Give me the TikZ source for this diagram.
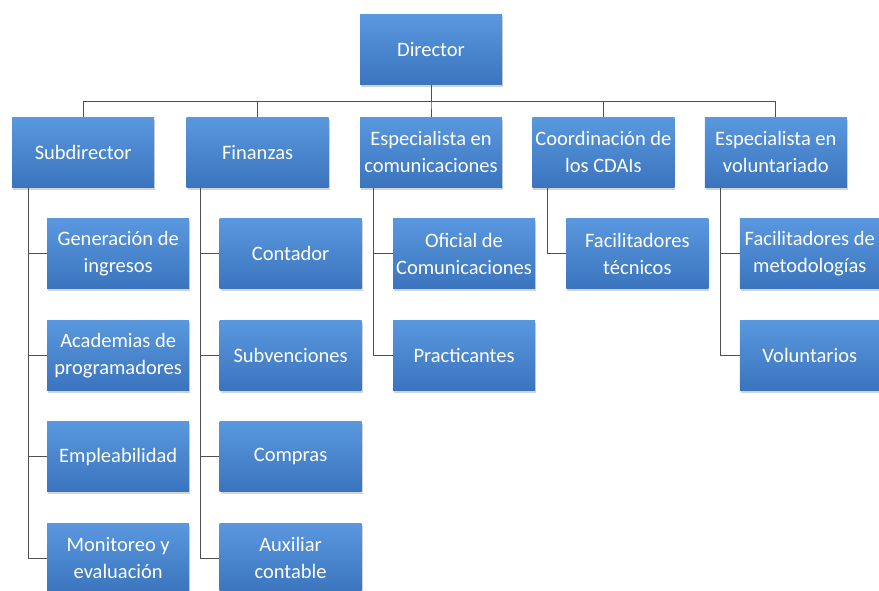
\documentclass[tikz,border=0pt]{standalone}
\usepackage{fontspec}
\setmainfont{Carlito}
\usetikzlibrary{positioning, calc, shadows}
\definecolor{boxtop}{RGB}{90,152,222}
\definecolor{boxbottom}{RGB}{58,116,190}
\definecolor{linegray}{RGB}{80,80,80}

\begin{document}
\begin{tikzpicture}[puesto/.style={rectangle,
      top color=boxtop,
      bottom color=boxbottom,
      draw=none,
      drop shadow={opacity=0.35, shadow xshift=1pt, shadow yshift=-2.5pt},
      minimum width=142pt,
      minimum height=70pt,
      inner sep=1pt,
      align=center,
      text=white,
      font=\fontsize{20.5}{27}\selectfont},
    linea/.style={draw=linegray, line width=0.9pt}]

  \useasboundingbox (0,0) rectangle (879pt,-591pt);

  \node [puesto] (director) at (431pt,-50pt) {Director};


  \node [puesto, below=32pt of director] (comunic) {Especialista en\\comunicaciones};

  \node [puesto, left=31pt of comunic] (finanzas) {Finanzas};

  \node [puesto, left=32pt of finanzas] (subdir) {Subdirector};

  \node [puesto, right=30pt of comunic] (coord) {Coordinación de\\los CDAIs};

  \node [puesto, right=30pt of coord] (volunt) {Especialista en\\voluntariado};


  % subdirector
  \node [puesto, below=31pt of subdir.south west, 
    anchor=north west, xshift=35pt] (ingresos) {Generación de\\ingresos};
  \node [puesto, below=31pt of ingresos] (academias) {Academias de\\programadores};
  \node [puesto, below=31pt of academias] (empleab) {Empleabilidad};
  \node [puesto, below=31pt of empleab] (monitoreo) {Monitoreo y\\evaluación};

  % finanzas
  \node [puesto, below=31pt of finanzas.south west, 
    anchor=north west, xshift=33pt] (contador) {Contador};
  \node [puesto, below=31pt of contador] (subvenc) {Subvenciones};
  \node [puesto, below=31pt of subvenc] (compras) {Compras};
  \node [puesto, below=31pt of compras] (auxiliar) {Auxiliar\\contable};

  % comunicaciones
  \node [puesto, below=31pt of comunic.south west, 
    anchor=north west, xshift=33pt] (oficial) {Oficial de\\Comunicaciones};
  \node [puesto, below=31pt of oficial] (practic) {Practicantes};

  % coordinacion
  \node [puesto, below=31pt of coord.south west, 
    anchor=north west, xshift=34pt] (facitec) {Facilitadores\\técnicos};

  % voluntariado
  \node [puesto, minimum width=140pt, below=31pt of volunt.south west, 
    anchor=north west, xshift=35pt] (facimet) {Facilitadores de\\metodologías};
  \node [puesto, minimum width=140pt, below=31pt of facimet] (voluntarios) {Voluntarios};


  \draw[linea] (director.south) -- ++(0,-16pt) -| (subdir.north);
  \draw[linea] (director.south) -- ++(0,-16pt) -| (finanzas.north);
  \draw[linea] (director.south) -- ++(0,-16pt) -| (comunic.north);
  \draw[linea] (director.south) -- ++(0,-16pt) -| (coord.north);
  \draw[linea] (director.south) -- ++(0,-16pt) -| (volunt.north);

  \draw[linea] ($(subdir.south west) + (16pt,0)$) |- (ingresos.west);
  \draw[linea] ($(subdir.south west) + (16pt,0)$) |- (academias.west);
  \draw[linea] ($(subdir.south west) + (16pt,0)$) |- (empleab.west);
  \draw[linea] ($(subdir.south west) + (16pt,0)$) |- (monitoreo.west);

  \draw[linea] ($(finanzas.south west) + (14pt,0)$) |- (contador.west);
  \draw[linea] ($(finanzas.south west) + (14pt,0)$) |- (subvenc.west);
  \draw[linea] ($(finanzas.south west) + (14pt,0)$) |- (compras.west);
  \draw[linea] ($(finanzas.south west) + (14pt,0)$) |- (auxiliar.west);

  \draw[linea] ($(comunic.south west) + (14pt,0)$) |- (oficial.west);
  \draw[linea] ($(comunic.south west) + (14pt,0)$) |- (practic.west);

  \draw[linea] ($(coord.south west) + (15pt,0)$) |- (facitec.west);

  \draw[linea] ($(volunt.south west) + (16pt,0)$) |- (facimet.west);
  \draw[linea] ($(volunt.south west) + (16pt,0)$) |- (voluntarios.west);

\end{tikzpicture}
\end{document}
